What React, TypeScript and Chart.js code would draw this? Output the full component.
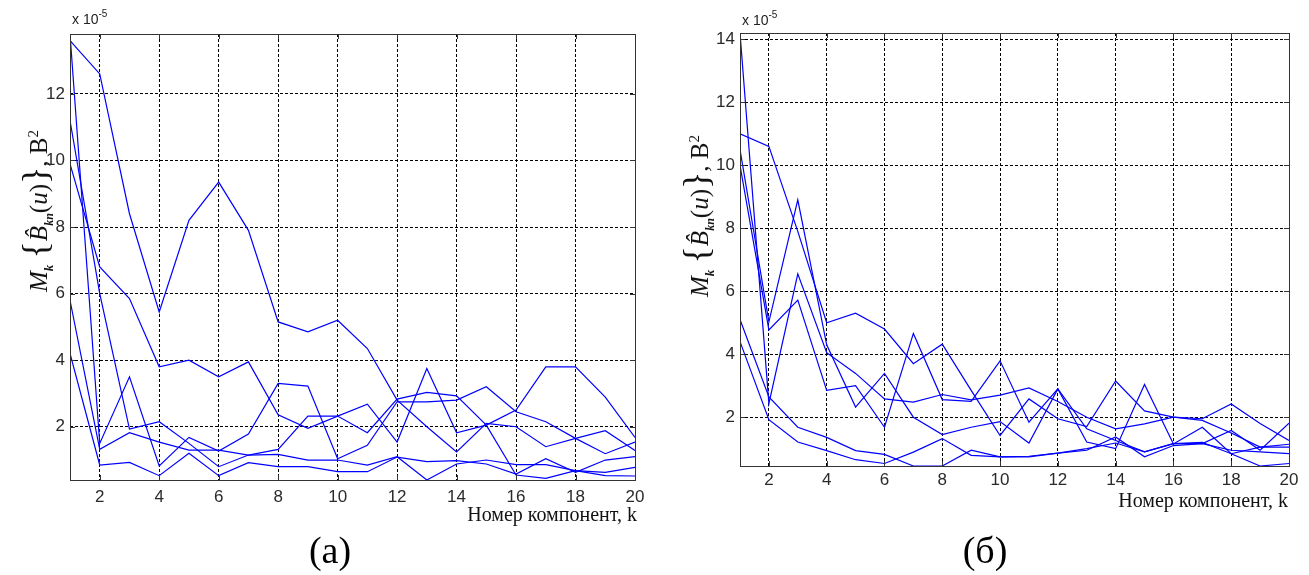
import React, { useEffect, useRef } from "react";
import { Chart, registerables } from "chart.js";

Chart.register(...registerables);

// Component numbers k
const K = [1, 2, 3, 4, 5, 6, 7, 8, 9, 10, 11, 12, 13, 14, 15, 16, 17, 18, 19, 20];
const X_TICKS = [2, 4, 6, 8, 10, 12, 14, 16, 18, 20];
const Y_TICKS_A = [2, 4, 6, 8, 10, 12];
const Y_TICKS_B = [2, 4, 6, 8, 10, 12, 14];

// Panel (а): mean values, in units of 1e-5 В²
const a1 = [13.8, 1.5, 3.5, 0.82, 1.68, 1.27, 1.78, 3.3, 3.22, 1.04, 1.44, 2.75, 2.75, 2.8, 3.2, 2.45, 2.15, 1.65, 1.19, 1.54];
const a2 = [13.6, 12.6, 8.4, 5.45, 8.2, 9.35, 7.9, 5.15, 4.85, 5.2, 4.35, 2.8, 2.0, 1.24, 2.1, 2.0, 1.4, 1.65, 1.88, 1.29];
const a3 = [11.2, 6.0, 1.93, 2.15, 1.5, 0.8, 1.15, 1.17, 1.0, 1.0, 0.85, 1.1, 0.4, 0.88, 1.0, 0.86, 0.86, 0.68, 0.63, 0.78];
const a4 = [9.9, 6.8, 5.85, 3.8, 4.0, 3.5, 3.95, 2.36, 1.95, 2.32, 1.82, 2.83, 3.03, 2.93, 2.05, 0.55, 0.45, 0.68, 0.53, 0.52];
const a5 = [5.8, 1.32, 1.82, 1.54, 1.3, 1.3, 1.15, 1.32, 2.32, 2.32, 2.68, 1.54, 3.75, 1.82, 2.05, 2.5, 3.8, 3.8, 2.89, 1.68];
const a6 = [4.2, 0.85, 0.93, 0.53, 1.2, 0.53, 0.92, 0.8, 0.8, 0.65, 0.65, 1.09, 0.95, 0.98, 0.88, 0.58, 1.04, 0.63, 1.0, 1.1];

// Panel (б): mean values, in units of 1e-5 В²
const b1 = [11.0, 10.6, 7.9, 5.0, 5.3, 4.8, 3.7, 4.32, 2.85, 1.42, 2.58, 1.95, 1.7, 3.15, 2.2, 2.0, 1.9, 1.5, 1.05, 1.14];
const b2 = [14.2, 2.43, 6.55, 4.05, 3.39, 2.58, 2.48, 2.72, 2.55, 2.7, 2.93, 2.5, 2.0, 1.63, 1.79, 2.0, 1.95, 2.42, 1.8, 1.26];
const b3 = [10.0, 4.77, 5.72, 2.85, 3.0, 1.68, 4.66, 2.56, 2.5, 3.79, 1.84, 2.9, 1.21, 1.0, 3.04, 1.15, 1.68, 0.84, 0.45, 0.53];
const b4 = [10.5, 5.03, 8.9, 4.3, 2.32, 3.39, 2.0, 1.45, 1.68, 1.86, 1.18, 2.9, 1.63, 1.26, 0.9, 1.16, 1.16, 1.58, 0.95, 1.81];
const b5 = [5.1, 2.64, 1.68, 1.36, 0.94, 0.82, 0.45, 0.45, 0.95, 0.74, 0.74, 0.86, 0.95, 1.37, 0.74, 1.1, 1.16, 0.95, 0.9, 0.84];
const b6 = [4.4, 1.92, 1.21, 0.94, 0.65, 0.53, 0.89, 1.32, 0.79, 0.74, 0.76, 0.86, 1.0, 1.18, 0.9, 1.16, 1.2, 0.84, 1.05, 1.05];

const SERIES_A = [a1, a2, a3, a4, a5, a6];
const SERIES_B = [b1, b2, b3, b4, b5, b6];

const LINE_COLOR = "#0000ff";
const TICK_FONT = { family: '"Liberation Sans", Arial, sans-serif', size: 17 };

// Closed axes box with short inward tick marks
const framePlugin = {
  id: "frame",
  afterDatasetsDraw(chart: any) {
    const { ctx, chartArea, scales } = chart;
    const { left, top, right, bottom } = chartArea;
    ctx.save();
    ctx.setLineDash([]);
    ctx.strokeStyle = "#333";
    ctx.lineWidth = 1;
    ctx.strokeRect(Math.round(left) + 0.5, Math.round(top) + 0.5, Math.round(right - left), Math.round(bottom - top));
    ctx.beginPath();
    for (const t of scales.x.ticks) {
      const px = Math.round(scales.x.getPixelForValue(t.value)) + 0.5;
      ctx.moveTo(px, bottom);
      ctx.lineTo(px, bottom - 5);
      ctx.moveTo(px, top);
      ctx.lineTo(px, top + 5);
    }
    for (const t of scales.y.ticks) {
      const py = Math.round(scales.y.getPixelForValue(t.value)) + 0.5;
      ctx.moveTo(left, py);
      ctx.lineTo(left + 5, py);
      ctx.moveTo(right, py);
      ctx.lineTo(right - 5, py);
    }
    ctx.stroke();
    ctx.restore();
  },
};

type PanelSpec = {
  series: number[][];
  yTicks: number[];
  padTop: number;
  padRight: number;
  yAxisWidth: number;
  xAxisHeight: number;
  xTickPad: number;
};

function buildChart(canvas: HTMLCanvasElement, spec: PanelSpec) {
  const all = spec.series.flat();
  const yMin = Math.min(...all);
  const yMax = Math.max(...all);
  return new Chart(canvas, {
    type: "line",
    data: {
      datasets: spec.series.map((s) => ({
        data: s.map((v, i) => ({ x: K[i], y: v })),
        borderColor: LINE_COLOR,
        borderWidth: 1.2,
        pointRadius: 0,
        tension: 0,
        fill: false,
      })),
    },
    options: {
      responsive: false,
      animation: false,
      events: [],
      layout: { padding: { top: spec.padTop, right: spec.padRight, left: 0, bottom: 0 } },
      plugins: { legend: { display: false }, tooltip: { enabled: false } },
      scales: {
        x: {
          type: "linear",
          min: 1,
          max: 20,
          afterBuildTicks: (s: any) => {
            s.ticks = X_TICKS.map((v) => ({ value: v }));
          },
          afterFit: (s: any) => {
            s.height = spec.xAxisHeight;
          },
          grid: { color: "#000", lineWidth: 1, drawTicks: false },
          border: { display: false, dash: [3, 2] },
          ticks: {
            padding: spec.xTickPad,
            color: "#2a2a2a",
            font: TICK_FONT,
            maxRotation: 0,
            autoSkip: false,
            callback: (v: any) => String(v),
          },
        },
        y: {
          type: "linear",
          min: yMin,
          max: yMax,
          afterBuildTicks: (s: any) => {
            s.ticks = spec.yTicks.map((v) => ({ value: v }));
          },
          afterFit: (s: any) => {
            s.width = spec.yAxisWidth;
          },
          grid: { color: "#000", lineWidth: 1, drawTicks: false },
          border: { display: false, dash: [3, 2] },
          ticks: {
            padding: 5,
            color: "#2a2a2a",
            font: TICK_FONT,
            autoSkip: false,
            callback: (v: any) => String(v),
          },
        },
      },
    },
    plugins: [framePlugin],
  } as any);
}

function YTitle({ cx, cy }: { cx: number; cy: number }) {
  return (
    <div
      style={{
        position: "absolute",
        left: cx,
        top: cy,
        transform: "translate(-50%, -50%) rotate(-90deg)",
        whiteSpace: "nowrap",
        fontFamily: '"Liberation Serif", "Times New Roman", serif',
        fontSize: 25,
        lineHeight: 1,
        color: "#111",
      }}
    >
      <i>M</i>
      <sub style={{ fontSize: 13, fontWeight: "bold" }}>
        <i>k</i>
      </sub>{" "}
      <span style={{ fontSize: 36 }}>{"{"}</span>
      <i>{"B\u0302"}</i>
      <sub style={{ fontSize: 12, fontWeight: "bold" }}>
        <i>kn</i>
      </sub>
      (<i>u</i>)<span style={{ fontSize: 36 }}>{"}"}</span>, В
      <sup style={{ fontSize: 15 }}>2</sup>
    </div>
  );
}

function Multiplier({ left, top }: { left: number; top: number }) {
  return (
    <div
      style={{
        position: "absolute",
        left,
        top,
        fontFamily: '"Liberation Sans", Arial, sans-serif',
        fontSize: 14,
        lineHeight: 1,
        color: "#222",
        whiteSpace: "nowrap",
      }}
    >
      x 10
      <span style={{ fontSize: 10, position: "relative", top: -7 }}>-5</span>
    </div>
  );
}

const xTitleStyle: React.CSSProperties = {
  position: "absolute",
  fontFamily: '"Liberation Serif", "Times New Roman", serif',
  fontSize: 20,
  lineHeight: 1,
  color: "#111",
  whiteSpace: "nowrap",
  transform: "translateY(-50%)",
};

const captionStyle: React.CSSProperties = {
  position: "absolute",
  fontFamily: '"Liberation Serif", "Times New Roman", serif',
  fontSize: 38,
  lineHeight: 1,
  color: "#000",
  whiteSpace: "nowrap",
  transform: "translate(-50%, -50%)",
};

export default function App() {
  const refA = useRef<HTMLCanvasElement>(null);
  const refB = useRef<HTMLCanvasElement>(null);

  useEffect(() => {
    const chartA = buildChart(refA.current!, {
      series: SERIES_A,
      yTicks: Y_TICKS_A,
      padTop: 34,
      padRight: 20,
      yAxisWidth: 70,
      xAxisHeight: 95,
      xTickPad: 7,
    });
    const chartB = buildChart(refB.current!, {
      series: SERIES_B,
      yTicks: Y_TICKS_B,
      padTop: 33,
      padRight: 20,
      yAxisWidth: 80,
      xAxisHeight: 109,
      xTickPad: 4,
    });
    return () => {
      chartA.destroy();
      chartB.destroy();
    };
  }, []);

  return (
    <div
      style={{
        position: "absolute",
        left: 0,
        top: 0,
        width: 1309,
        height: 575,
        background: "#fff",
        overflow: "hidden",
      }}
    >
      <canvas ref={refA} width={655} height={575} style={{ position: "absolute", left: 0, top: 0 }} />
      <canvas ref={refB} width={649} height={575} style={{ position: "absolute", left: 660, top: 0 }} />

      <Multiplier left={72} top={12} />
      <Multiplier left={742} top={13} />

      <YTitle cx={36} cy={211} />
      <YTitle cx={697} cy={216} />

      <div style={{ ...xTitleStyle, right: 1309 - 637, top: 514 }}>Номер компонент, k</div>
      <div style={{ ...xTitleStyle, right: 1309 - 1288, top: 500 }}>Номер компонент, k</div>

      <div style={{ ...captionStyle, left: 330, top: 550 }}>(а)</div>
      <div style={{ ...captionStyle, left: 985, top: 550 }}>(б)</div>
    </div>
  );
}
